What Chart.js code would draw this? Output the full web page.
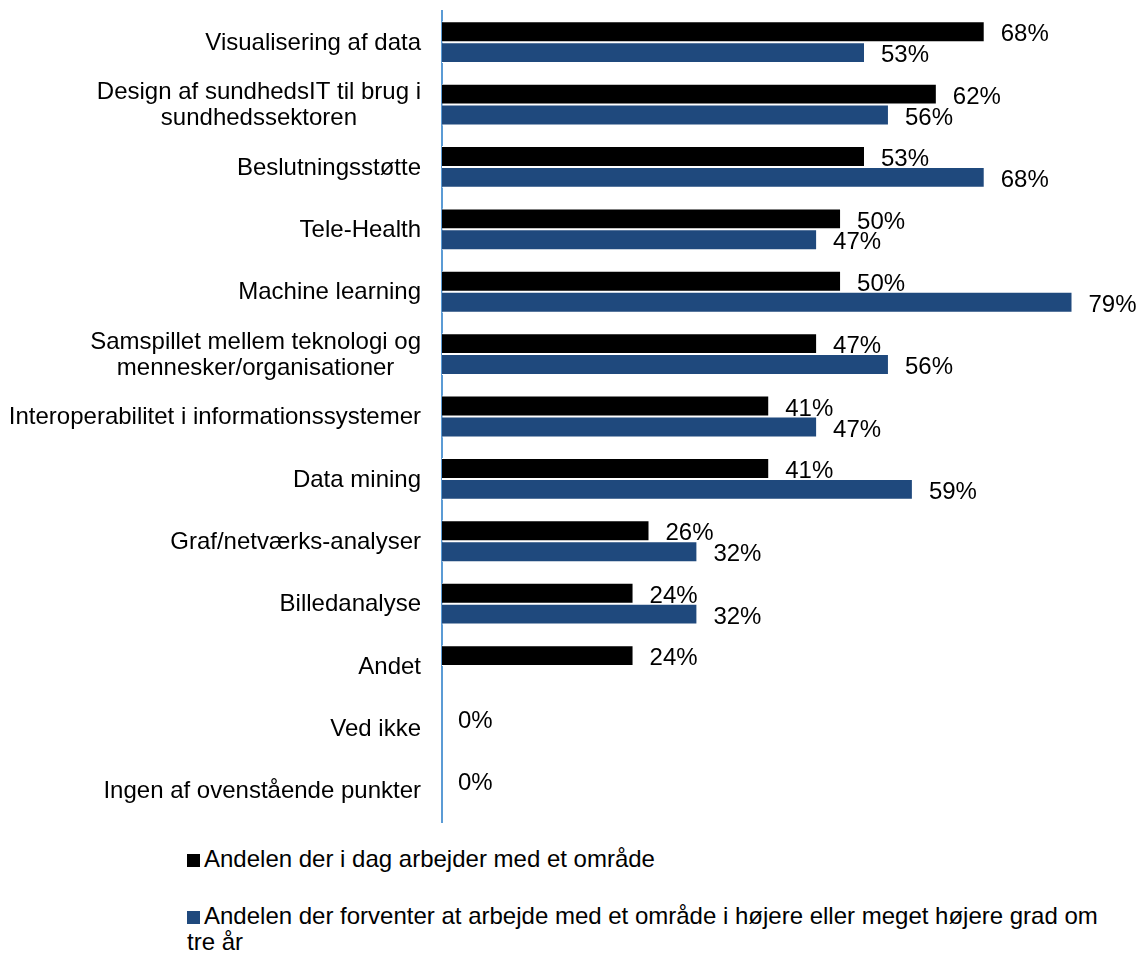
<!DOCTYPE html>
<html>
<head>
<meta charset="utf-8">
<script src="https://cdn.jsdelivr.net/npm/chart.js@4/dist/chart.umd.min.js"></script>
<style>
  body { margin: 0; background: #fff; font-family: "Liberation Sans", Arial, sans-serif; }
  #wrap { position: absolute; left: 0; top: 0; width: 1138px; height: 830px; }
  #legend { position: absolute; left: 187px; top: 846px; width: 925px; font-size: 24px; line-height: 26px; color: #000; }
  .legend-item { margin-bottom: 31px; }
  .swatch { display: inline-block; width: 13px; height: 13px; margin-right: 4px; vertical-align: 0px; }
</style>
</head>
<body>
<div id="wrap"><canvas id="chart"></canvas></div>
<div id="legend"></div>
<script>
// --- Data ---
const categories = [
  ['Visualisering af data'],
  ['Design af sundhedsIT til brug i', 'sundhedssektoren'],
  ['Beslutningsstøtte'],
  ['Tele-Health'],
  ['Machine learning'],
  ['Samspillet mellem teknologi og', 'mennesker/organisationer'],
  ['Interoperabilitet i informationssystemer'],
  ['Data mining'],
  ['Graf/netværks-analyser'],
  ['Billedanalyse'],
  ['Andet'],
  ['Ved ikke'],
  ['Ingen af ovenstående punkter']
];
const todayValues = [68, 62, 53, 50, 50, 47, 41, 41, 26, 24, 24, 0, 0];
const futureValues = [53, 56, 68, 47, 79, 56, 47, 59, 32, 32, null, null, null];
const seriesNames = [
  'Andelen der i dag arbejder med et område',
  'Andelen der forventer at arbejde med et område i højere eller meget højere grad om tre år'
];
const seriesColors = ['#000000', '#1F497D'];

const FONT = '24px "Liberation Sans", Arial, sans-serif';

// category labels: lines centered, block right-aligned against the axis
const categoryLabels = {
  id: 'categoryLabels',
  afterDraw(chart) {
    const ctx = chart.ctx;
    const yScale = chart.scales.y;
    const right = chart.chartArea.left - 21;
    const lineH = 26;
    ctx.save();
    ctx.font = FONT;
    ctx.fillStyle = '#000';
    ctx.textAlign = 'center';
    ctx.textBaseline = 'middle';
    categories.forEach((lines, i) => {
      const yc = yScale.getPixelForValue(i);
      const maxW = Math.max(...lines.map(l => ctx.measureText(l).width));
      const xc = right - maxW / 2;
      lines.forEach((l, j) => {
        ctx.fillText(l, xc, yc + (j - (lines.length - 1) / 2) * lineH + 1);
      });
    });
    ctx.restore();
  }
};

// value labels right of each bar
const valueLabels = {
  id: 'valueLabels',
  afterDatasetsDraw(chart) {
    const ctx = chart.ctx;
    ctx.save();
    ctx.font = FONT;
    ctx.fillStyle = '#000';
    ctx.textAlign = 'left';
    ctx.textBaseline = 'middle';
    chart.data.datasets.forEach((ds, di) => {
      chart.getDatasetMeta(di).data.forEach((bar, i) => {
        const v = ds.data[i];
        if (v === null || v === undefined) return;
        ctx.fillText(v + '%', bar.x + 16, bar.y + 3);
      });
    });
    ctx.restore();
  }
};

new Chart(document.getElementById('chart'), {
  type: 'bar',
  data: {
    labels: categories,
    datasets: [
      { label: seriesNames[0], data: todayValues, backgroundColor: seriesColors[0], borderColor: '#ffffff', borderWidth: 1 },
      { label: seriesNames[1], data: futureValues, backgroundColor: seriesColors[1], borderColor: '#ffffff', borderWidth: 1 }
    ]
  },
  options: {
    indexAxis: 'y',
    responsive: true,
    maintainAspectRatio: false,
    animation: false,
    layout: { padding: { top: 11, bottom: 8, left: 0, right: 20 } },
    datasets: { bar: { categoryPercentage: 0.67, barPercentage: 1 } },
    plugins: { legend: { display: false }, tooltip: { enabled: false } },
    scales: {
      x: { display: false, min: 0, max: 84.7 },
      y: {
        grid: { display: false },
        border: { display: true, color: '#5B9BD5', width: 2 },
        ticks: { display: false },
        afterFit(scale) { scale.width = 442; }
      }
    }
  },
  plugins: [categoryLabels, valueLabels]
});

// HTML legend (wraps long text like the original)
const legend = document.getElementById('legend');
seriesNames.forEach((name, i) => {
  const item = document.createElement('div');
  item.className = 'legend-item';
  const sw = document.createElement('span');
  sw.className = 'swatch';
  sw.style.background = seriesColors[i];
  item.appendChild(sw);
  item.appendChild(document.createTextNode(name));
  legend.appendChild(item);
});
</script>
</body>
</html>
